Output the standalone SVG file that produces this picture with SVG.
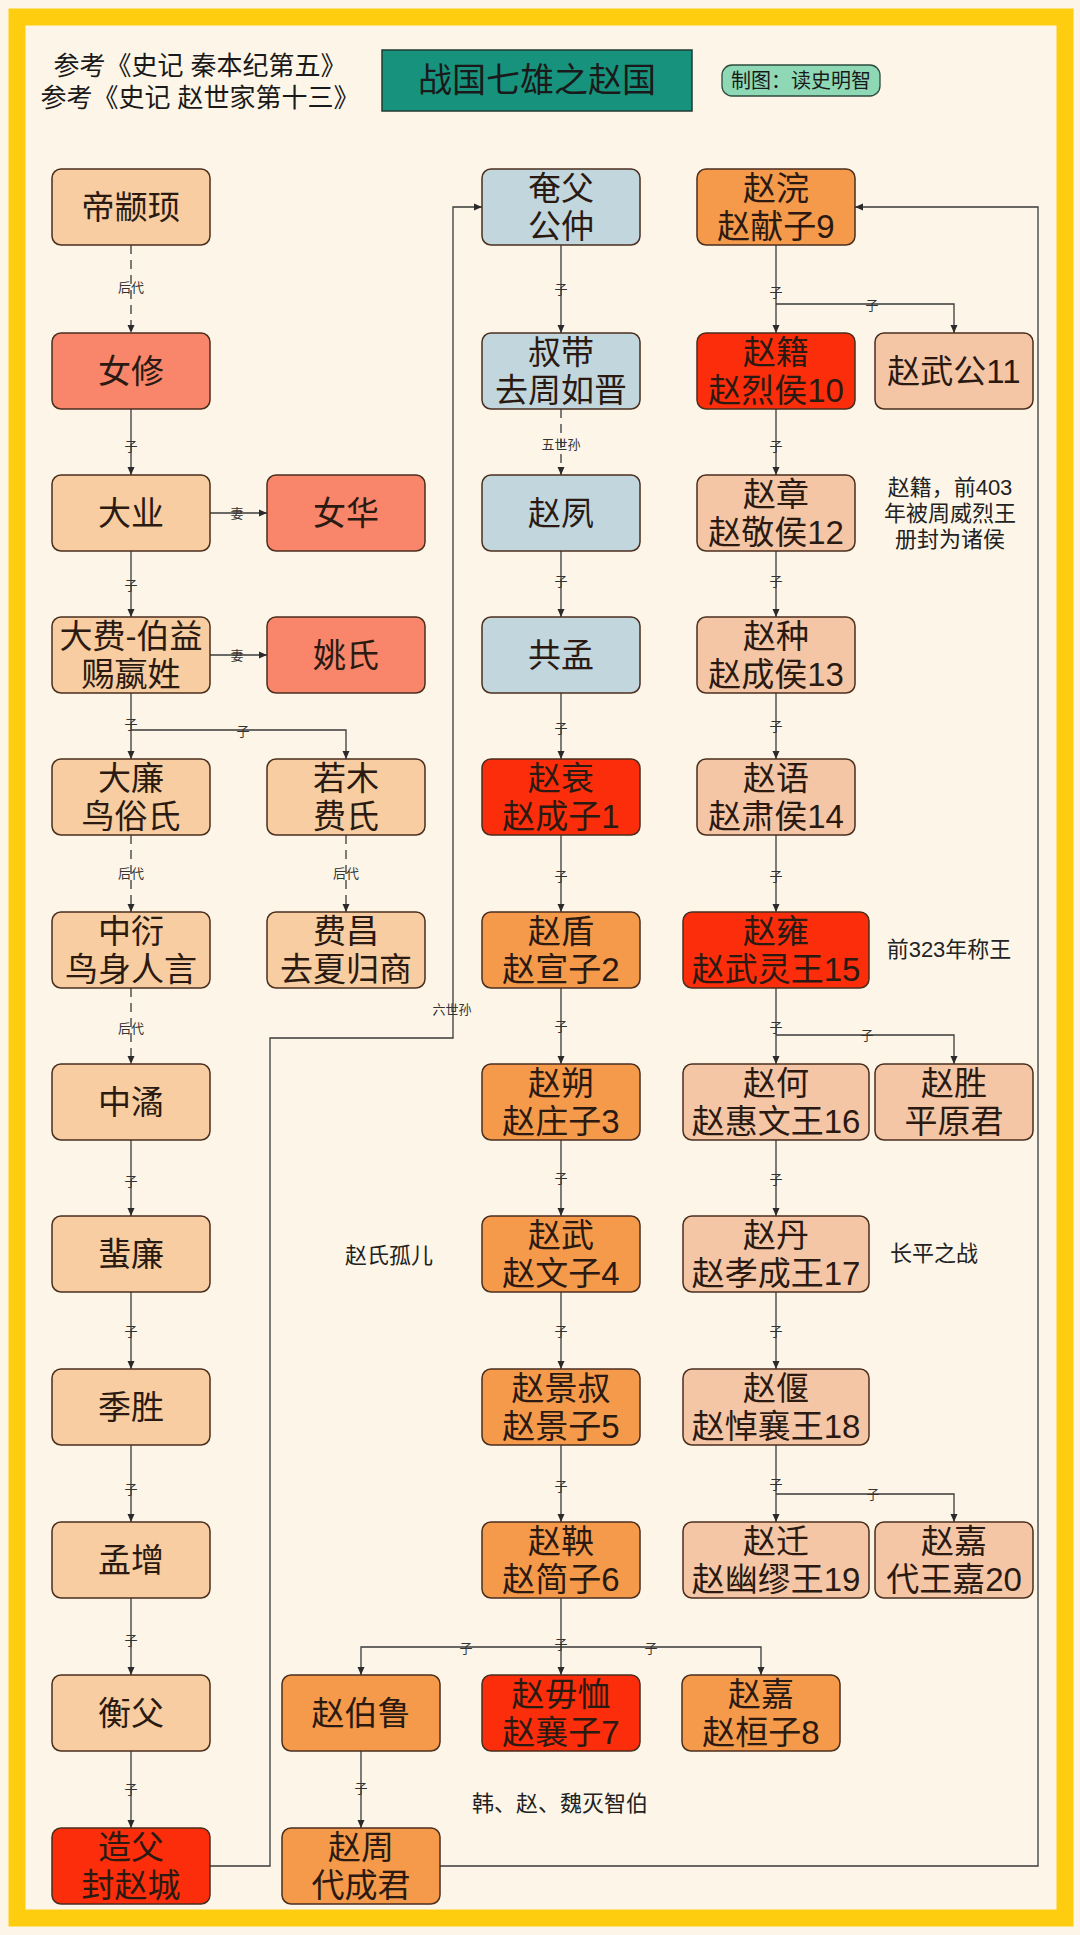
<svg xmlns="http://www.w3.org/2000/svg" width="1080" height="1935" viewBox="0 0 1080 1935">
<style>
text{font-family:"Liberation Sans","Noto Sans CJK SC",sans-serif}
.n rect{stroke:#4a2e1e;stroke-width:1.5}
.tan{fill:#F7CDA1}.pch{fill:#F5C6A6}.sal{fill:#F9866A}.red{fill:#FB2D0B}.org{fill:#F5994A}.blu{fill:#C1D6DD}
.n text{font-size:33px;fill:#2a1a12;text-anchor:middle}
.c path{fill:none;stroke:#3a3a3a;stroke-width:1.3}
.c .d{stroke-dasharray:9 6}
.l{font-size:13px;fill:#333;text-anchor:middle}
.note{font-size:22px;fill:#222;text-anchor:middle}
</style>
<defs>
<marker id="ar" markerWidth="8" markerHeight="8" refX="8" refY="4" orient="auto" markerUnits="userSpaceOnUse"><path d="M0,0.5 L8,4 L0,7.5z" fill="#2a2a2a"/></marker>
</defs>
<rect x="0" y="0" width="1080" height="1935" fill="#FDF6E8"/>
<rect x="17" y="17" width="1048" height="1901" fill="#FDF6E8" stroke="#FFCD10" stroke-width="17"/>

<g id="header">
<text x="200" font-size="26" fill="#1a1a1a" text-anchor="middle"><tspan x="200" y="75">参考《史记 秦本纪第五》</tspan><tspan x="200" y="107">参考《史记 赵世家第十三》</tspan></text>
<rect x="382" y="50" width="310" height="61" fill="#17937D" stroke="#1f3b33" stroke-width="1.5"/>
<text x="537" y="92" font-size="34" fill="#1a1a1a" text-anchor="middle">战国七雄之赵国</text>
<rect x="722" y="65" width="158" height="31" rx="10" fill="#8FD8B6" stroke="#2c4a3c" stroke-width="1.3"/>
<text x="801" y="88" font-size="20" fill="#1a1a1a" text-anchor="middle">制图：读史明智</text>
</g>

<g class="c" id="connectors" marker-end="url(#ar)">
<path class="d" d="M131,245V333"/>
<path d="M131,409V475"/>
<path d="M210,513H267"/>
<path d="M131,551V617"/>
<path d="M210,655H267"/>
<path d="M131,693V759"/>
<path d="M131,730H346V759"/>
<path class="d" d="M131,835V912"/>
<path class="d" d="M346,835V912"/>
<path class="d" d="M131,988V1064"/>
<path d="M131,1140V1216"/>
<path d="M131,1292V1369"/>
<path d="M131,1445V1522"/>
<path d="M131,1598V1675"/>
<path d="M131,1751V1828"/>
<path d="M210,1866H270V1038H453V207H482"/>
<path d="M561,245V333"/>
<path class="d" d="M561,409V475"/>
<path d="M561,551V617"/>
<path d="M561,693V759"/>
<path d="M561,835V912"/>
<path d="M561,988V1064"/>
<path d="M561,1140V1216"/>
<path d="M561,1292V1369"/>
<path d="M561,1445V1522"/>
<path d="M561,1598V1675"/>
<path d="M561,1647H361V1675"/>
<path d="M561,1647H761V1675"/>
<path d="M361,1751V1828"/>
<path d="M440,1866H1038V207H855"/>
<path d="M776,245V333"/>
<path d="M776,304H954V333"/>
<path d="M776,409V475"/>
<path d="M776,551V617"/>
<path d="M776,693V759"/>
<path d="M776,835V912"/>
<path d="M776,988V1064"/>
<path d="M776,1035H954V1064"/>
<path d="M776,1140V1216"/>
<path d="M776,1292V1369"/>
<path d="M776,1445V1522"/>
<path d="M776,1494H954V1522"/>
</g>

<g id="labels">
<text class="l" x="131" y="292">后代</text>
<text class="l" x="131" y="451">子</text>
<text class="l" x="237" y="518">妻</text>
<text class="l" x="131" y="590">子</text>
<text class="l" x="237" y="660">妻</text>
<text class="l" x="131" y="729">子</text>
<text class="l" x="243" y="736">子</text>
<text class="l" x="131" y="878">后代</text>
<text class="l" x="346" y="878">后代</text>
<text class="l" x="131" y="1033">后代</text>
<text class="l" x="131" y="1186">子</text>
<text class="l" x="131" y="1336">子</text>
<text class="l" x="131" y="1494">子</text>
<text class="l" x="131" y="1645">子</text>
<text class="l" x="131" y="1794">子</text>
<text class="l" x="452" y="1014">六世孙</text>
<text class="l" x="561" y="294">子</text>
<text class="l" x="561" y="449">五世孙</text>
<text class="l" x="561" y="586">子</text>
<text class="l" x="561" y="733">子</text>
<text class="l" x="561" y="881">子</text>
<text class="l" x="561" y="1031">子</text>
<text class="l" x="561" y="1183">子</text>
<text class="l" x="561" y="1336">子</text>
<text class="l" x="561" y="1491">子</text>
<text class="l" x="561" y="1649">子</text>
<text class="l" x="466" y="1653">子</text>
<text class="l" x="651" y="1653">子</text>
<text class="l" x="361" y="1793">子</text>
<text class="l" x="776" y="297">子</text>
<text class="l" x="872" y="310">子</text>
<text class="l" x="776" y="451">子</text>
<text class="l" x="776" y="586">子</text>
<text class="l" x="776" y="731">子</text>
<text class="l" x="776" y="881">子</text>
<text class="l" x="776" y="1032">子</text>
<text class="l" x="867" y="1040">子</text>
<text class="l" x="776" y="1184">子</text>
<text class="l" x="776" y="1336">子</text>
<text class="l" x="776" y="1489">子</text>
<text class="l" x="873" y="1499">子</text>
</g>

<g id="notes">
<text class="note"><tspan x="950" y="495">赵籍，前403</tspan><tspan x="950" y="521">年被周威烈王</tspan><tspan x="950" y="547">册封为诸侯</tspan></text>
<text class="note" x="949" y="957">前323年称王</text>
<text class="note" x="934" y="1261">长平之战</text>
<text class="note" x="389" y="1263">赵氏孤儿</text>
<text class="note" x="560" y="1811">韩、赵、魏灭智伯</text>
</g>

<g id="n_dizhuanxu" class="n"><rect class="tan" x="52" y="169" width="158" height="76" rx="9"/><text x="131" y="219">帝颛顼</text></g>
<g id="n_nvxiu" class="n"><rect class="sal" x="52" y="333" width="158" height="76" rx="9"/><text x="131" y="383">女修</text></g>
<g id="n_daye" class="n"><rect class="tan" x="52" y="475" width="158" height="76" rx="9"/><text x="131" y="525">大业</text></g>
<g id="n_dafei" class="n"><rect class="tan" x="52" y="617" width="158" height="76" rx="9"/><text><tspan x="131" y="648">大费-伯益</tspan><tspan x="131" y="686">赐嬴姓</tspan></text></g>
<g id="n_dalian" class="n"><rect class="tan" x="52" y="759" width="158" height="76" rx="9"/><text><tspan x="131" y="790">大廉</tspan><tspan x="131" y="828">鸟俗氏</tspan></text></g>
<g id="n_zhongyan" class="n"><rect class="tan" x="52" y="912" width="158" height="76" rx="9"/><text><tspan x="131" y="943">中衍</tspan><tspan x="131" y="981">鸟身人言</tspan></text></g>
<g id="n_zhongjue" class="n"><rect class="tan" x="52" y="1064" width="158" height="76" rx="9"/><text x="131" y="1114">中潏</text></g>
<g id="n_feilian" class="n"><rect class="tan" x="52" y="1216" width="158" height="76" rx="9"/><text x="131" y="1266">蜚廉</text></g>
<g id="n_jisheng" class="n"><rect class="tan" x="52" y="1369" width="158" height="76" rx="9"/><text x="131" y="1419">季胜</text></g>
<g id="n_mengzeng" class="n"><rect class="tan" x="52" y="1522" width="158" height="76" rx="9"/><text x="131" y="1572">孟增</text></g>
<g id="n_hengfu" class="n"><rect class="tan" x="52" y="1675" width="158" height="76" rx="9"/><text x="131" y="1725">衡父</text></g>
<g id="n_zaofu" class="n"><rect class="red" x="52" y="1828" width="158" height="76" rx="9"/><text><tspan x="131" y="1859">造父</tspan><tspan x="131" y="1897">封赵城</tspan></text></g>

<g id="n_nvhua" class="n"><rect class="sal" x="267" y="475" width="158" height="76" rx="9"/><text x="346" y="525">女华</text></g>
<g id="n_yaoshi" class="n"><rect class="sal" x="267" y="617" width="158" height="76" rx="9"/><text x="346" y="667">姚氏</text></g>
<g id="n_ruomu" class="n"><rect class="tan" x="267" y="759" width="158" height="76" rx="9"/><text><tspan x="346" y="790">若木</tspan><tspan x="346" y="828">费氏</tspan></text></g>
<g id="n_feichang" class="n"><rect class="tan" x="267" y="912" width="158" height="76" rx="9"/><text><tspan x="346" y="943">费昌</tspan><tspan x="346" y="981">去夏归商</tspan></text></g>
<g id="n_zhaobolu" class="n"><rect class="org" x="282" y="1675" width="158" height="76" rx="9"/><text x="361" y="1725">赵伯鲁</text></g>
<g id="n_zhaozhou" class="n"><rect class="org" x="282" y="1828" width="158" height="76" rx="9"/><text><tspan x="361" y="1859">赵周</tspan><tspan x="361" y="1897">代成君</tspan></text></g>

<g id="n_yanfu" class="n"><rect class="blu" x="482" y="169" width="158" height="76" rx="9"/><text><tspan x="561" y="200">奄父</tspan><tspan x="561" y="238">公仲</tspan></text></g>
<g id="n_shudai" class="n"><rect class="blu" x="482" y="333" width="158" height="76" rx="9"/><text><tspan x="561" y="364">叔带</tspan><tspan x="561" y="402">去周如晋</tspan></text></g>
<g id="n_zhaosu" class="n"><rect class="blu" x="482" y="475" width="158" height="76" rx="9"/><text x="561" y="525">赵夙</text></g>
<g id="n_gongmeng" class="n"><rect class="blu" x="482" y="617" width="158" height="76" rx="9"/><text x="561" y="667">共孟</text></g>
<g id="n_zhaocui" class="n"><rect class="red" x="482" y="759" width="158" height="76" rx="9"/><text><tspan x="561" y="790">赵衰</tspan><tspan x="561" y="828">赵成子1</tspan></text></g>
<g id="n_zhaodun" class="n"><rect class="org" x="482" y="912" width="158" height="76" rx="9"/><text><tspan x="561" y="943">赵盾</tspan><tspan x="561" y="981">赵宣子2</tspan></text></g>
<g id="n_zhaoshuo" class="n"><rect class="org" x="482" y="1064" width="158" height="76" rx="9"/><text><tspan x="561" y="1095">赵朔</tspan><tspan x="561" y="1133">赵庄子3</tspan></text></g>
<g id="n_zhaowu" class="n"><rect class="org" x="482" y="1216" width="158" height="76" rx="9"/><text><tspan x="561" y="1247">赵武</tspan><tspan x="561" y="1285">赵文子4</tspan></text></g>
<g id="n_zhaojingshu" class="n"><rect class="org" x="482" y="1369" width="158" height="76" rx="9"/><text><tspan x="561" y="1400">赵景叔</tspan><tspan x="561" y="1438">赵景子5</tspan></text></g>
<g id="n_zhaoyang" class="n"><rect class="org" x="482" y="1522" width="158" height="76" rx="9"/><text><tspan x="561" y="1553">赵鞅</tspan><tspan x="561" y="1591">赵简子6</tspan></text></g>
<g id="n_zhaowuxu" class="n"><rect class="red" x="482" y="1675" width="158" height="76" rx="9"/><text><tspan x="561" y="1706">赵毋恤</tspan><tspan x="561" y="1744">赵襄子7</tspan></text></g>

<g id="n_zhaohuan" class="n"><rect class="org" x="697" y="169" width="158" height="76" rx="9"/><text><tspan x="776" y="200">赵浣</tspan><tspan x="776" y="238">赵献子9</tspan></text></g>
<g id="n_zhaoji" class="n"><rect class="red" x="697" y="333" width="158" height="76" rx="9"/><text><tspan x="776" y="364">赵籍</tspan><tspan x="776" y="402">赵烈侯10</tspan></text></g>
<g id="n_zhaowugong" class="n"><rect class="pch" x="875" y="333" width="158" height="76" rx="9"/><text x="954" y="383">赵武公11</text></g>
<g id="n_zhaozhang" class="n"><rect class="pch" x="697" y="475" width="158" height="76" rx="9"/><text><tspan x="776" y="506">赵章</tspan><tspan x="776" y="544">赵敬侯12</tspan></text></g>
<g id="n_zhaozhong" class="n"><rect class="pch" x="697" y="617" width="158" height="76" rx="9"/><text><tspan x="776" y="648">赵种</tspan><tspan x="776" y="686">赵成侯13</tspan></text></g>
<g id="n_zhaoyu" class="n"><rect class="pch" x="697" y="759" width="158" height="76" rx="9"/><text><tspan x="776" y="790">赵语</tspan><tspan x="776" y="828">赵肃侯14</tspan></text></g>
<g id="n_zhaoyong" class="n"><rect class="red" x="683" y="912" width="186" height="76" rx="9"/><text><tspan x="776" y="943">赵雍</tspan><tspan x="776" y="981">赵武灵王15</tspan></text></g>
<g id="n_zhaohe" class="n"><rect class="pch" x="683" y="1064" width="186" height="76" rx="9"/><text><tspan x="776" y="1095">赵何</tspan><tspan x="776" y="1133">赵惠文王16</tspan></text></g>
<g id="n_zhaosheng" class="n"><rect class="pch" x="875" y="1064" width="158" height="76" rx="9"/><text><tspan x="954" y="1095">赵胜</tspan><tspan x="954" y="1133">平原君</tspan></text></g>
<g id="n_zhaodan" class="n"><rect class="pch" x="683" y="1216" width="186" height="76" rx="9"/><text><tspan x="776" y="1247">赵丹</tspan><tspan x="776" y="1285">赵孝成王17</tspan></text></g>
<g id="n_zhaoyan" class="n"><rect class="pch" x="683" y="1369" width="186" height="76" rx="9"/><text><tspan x="776" y="1400">赵偃</tspan><tspan x="776" y="1438">赵悼襄王18</tspan></text></g>
<g id="n_zhaoqian" class="n"><rect class="pch" x="683" y="1522" width="186" height="76" rx="9"/><text><tspan x="776" y="1553">赵迁</tspan><tspan x="776" y="1591">赵幽缪王19</tspan></text></g>
<g id="n_zhaojia20" class="n"><rect class="pch" x="875" y="1522" width="158" height="76" rx="9"/><text><tspan x="954" y="1553">赵嘉</tspan><tspan x="954" y="1591">代王嘉20</tspan></text></g>
<g id="n_zhaojia8" class="n"><rect class="org" x="682" y="1675" width="158" height="76" rx="9"/><text><tspan x="761" y="1706">赵嘉</tspan><tspan x="761" y="1744">赵桓子8</tspan></text></g>
</svg>
